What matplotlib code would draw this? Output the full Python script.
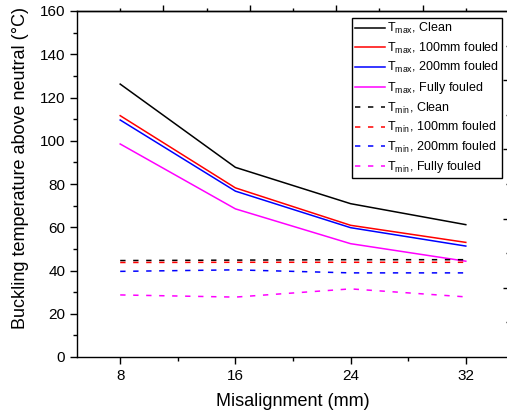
import matplotlib
matplotlib.use('Agg')
import matplotlib.pyplot as plt
from matplotlib.ticker import MultipleLocator, FixedLocator

plt.rcParams['font.family'] = ['Liberation Sans', 'DejaVu Sans']
plt.rcParams['mathtext.fontset'] = 'custom'
plt.rcParams['mathtext.rm'] = 'Liberation Sans'
plt.rcParams['mathtext.it'] = 'Liberation Sans:italic'

misalignment = [8, 16, 24, 32]

tmax_clean = [126.2, 87.7, 70.9, 61.2]
tmax_100 = [111.6, 78.2, 60.9, 53.0]
tmax_200 = [109.6, 76.7, 59.8, 51.3]
tmax_full = [98.5, 68.5, 52.4, 44.3]

tmin_clean = [44.6, 44.8, 45.0, 45.0]
tmin_100 = [43.7, 43.8, 43.8, 43.8]
tmin_200 = [39.6, 40.3, 38.9, 38.9]
tmin_full = [28.7, 27.7, 31.5, 27.8]

cases = ['Clean', '100mm fouled', '200mm fouled', 'Fully fouled']
colors = ['black', 'red', 'blue', 'magenta']


def main():
    fig = plt.figure(figsize=(5.07, 4.18), dpi=100)
    ax = fig.add_axes([77 / 507, 61 / 418, 432 / 507, 346 / 418])

    for vals, name, c in zip([tmax_clean, tmax_100, tmax_200, tmax_full], cases, colors):
        ax.plot(misalignment, vals, color=c, lw=1.1, label=r'T$_{\mathrm{max}}$, ' + name)
    for vals, name, c in zip([tmin_clean, tmin_100, tmin_200, tmin_full], cases, colors):
        ax.plot(misalignment, vals, color=c, lw=1.1, dashes=(3.5, 5),
                label=r'T$_{\mathrm{min}}$, ' + name)

    ax.set_xlim(5, 35)
    ax.set_ylim(0, 160)
    ax.xaxis.set_major_locator(FixedLocator([8, 16, 24, 32]))
    ax.xaxis.set_minor_locator(FixedLocator([12, 20, 28]))
    ax.yaxis.set_major_locator(MultipleLocator(20))
    ax.yaxis.set_minor_locator(MultipleLocator(10))
    ax.tick_params(which='major', direction='out', length=5, width=1, labelsize=11,
                   top=False, right=False)
    ax.tick_params(which='minor', direction='out', length=3, width=1,
                   top=False, right=False)
    for s in ax.spines.values():
        s.set_linewidth(1)

    # odd top / right ticks left over from the neighbouring panel
    top = ax.secondary_xaxis('top')
    top.xaxis.set_major_locator(FixedLocator([11, 17, 23, 29]))
    top.xaxis.set_minor_locator(FixedLocator([8, 14, 20, 26, 32]))
    top.tick_params(which='major', direction='out', length=4, width=1)
    top.tick_params(which='minor', direction='out', length=2.5, width=1)
    top.set_xticklabels([])
    top.spines['top'].set_linewidth(1)

    right = ax.secondary_yaxis('right')
    right.yaxis.set_major_locator(FixedLocator([32, 64, 96, 128]))
    right.yaxis.set_minor_locator(FixedLocator([16, 48, 80, 112, 144]))
    right.tick_params(which='major', direction='in', length=4, width=1)
    right.tick_params(which='minor', direction='in', length=2, width=1)
    right.set_yticklabels([])

    ax.set_xlabel('Misalignment (mm)', fontsize=13, labelpad=7)
    ax.set_ylabel('Buckling temperature above neutral (°C)', fontsize=13)
    ax.yaxis.set_label_coords(-0.112, 0.546)

    leg = ax.legend(loc='upper right', bbox_to_anchor=(502 / 507, 400 / 418),
                    bbox_transform=fig.transFigure, borderaxespad=0, fontsize=9,
                    fancybox=False, framealpha=1, edgecolor='black',
                    handlelength=2.4, handletextpad=0.15, labelspacing=0.36,
                    borderpad=0.25)
    leg.get_frame().set_linewidth(1)

    fig.savefig('out.png', dpi=100)


if __name__ == '__main__':
    main()
